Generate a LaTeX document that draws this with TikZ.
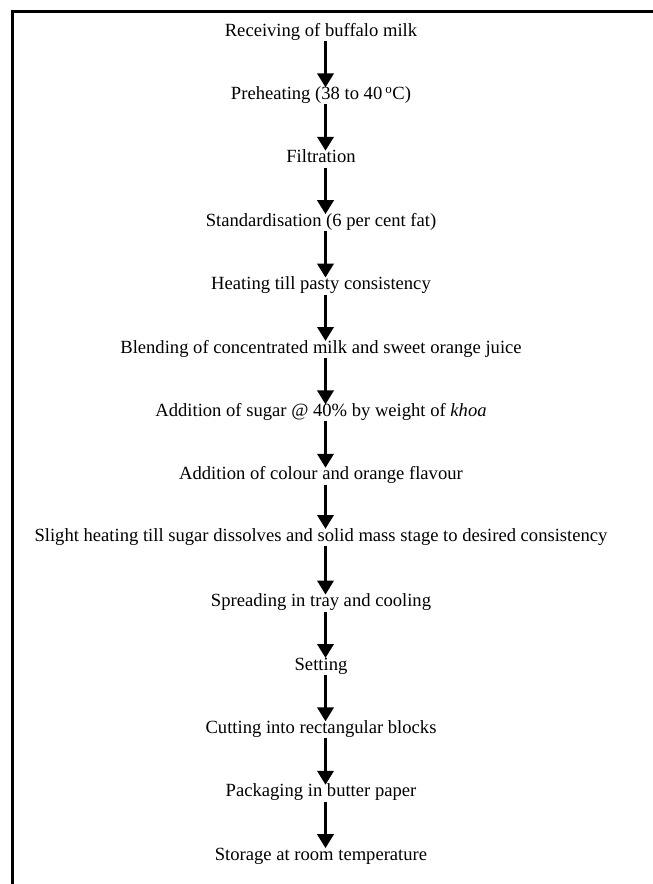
\documentclass[tikz,border=0pt]{standalone}
\usepackage{fontspec}
\setmainfont{Liberation Serif}
\usetikzlibrary{arrows.meta}
\begin{document}
\begin{tikzpicture}[x=1pt,y=1pt,
  stepnode/.style={anchor=base,inner sep=0pt,font=\fontsize{18.6}{22}\selectfont},
  flow/.style={line width=3.6pt,-{Triangle[width=16pt,length=14pt]}}]
\useasboundingbox (0,0) rectangle (653,-884);
\fill[white] (0,0) rectangle (653,-884);
\draw[line width=2.6pt] (12.5,-884) -- (12.5,-11.5) -- (653,-11.5);
\node[stepnode] (s1)  at (321,-36)    {Receiving of buffalo milk};
\node[stepnode] (s2)  at (321,-99.4)  {Preheating (38 to 40\,\textsuperscript{o}C)};
\node[stepnode] (s3)  at (321,-162.8) {Filtration};
\node[stepnode] (s4)  at (321,-226.2) {Standardisation (6 per cent fat)};
\node[stepnode] (s5)  at (321,-289.6) {Heating till pasty consistency};
\node[stepnode] (s6)  at (321,-353)   {Blending of concentrated milk and sweet orange juice};
\node[stepnode] (s7)  at (321,-416.4) {Addition of sugar @ 40\% by weight of \textit{khoa}};
\node[stepnode] (s8)  at (321,-479.8) {Addition of colour and orange flavour};
\node[stepnode] (s9)  at (321,-541)   {Slight heating till sugar dissolves and solid mass stage to desired consistency};
\node[stepnode] (s10) at (321,-606.6) {Spreading in tray and cooling};
\node[stepnode] (s11) at (321,-670)   {Setting};
\node[stepnode] (s12) at (321,-733.4) {Cutting into rectangular blocks};
\node[stepnode] (s13) at (321,-796.8) {Packaging in butter paper};
\node[stepnode] (s14) at (321,-860.2) {Storage at room temperature};
\foreach \a/\b in {s1/s2,s2/s3,s3/s4,s4/s5,s5/s6,s6/s7,s7/s8,s8/s9,s9/s10,s10/s11,s11/s12,s12/s13,s13/s14}{
  \draw[flow] ([xshift=4.5pt,yshift=-5pt]\a.base) -- ([xshift=4.5pt,yshift=12pt]\b.base);
}
\end{tikzpicture}
\end{document}
